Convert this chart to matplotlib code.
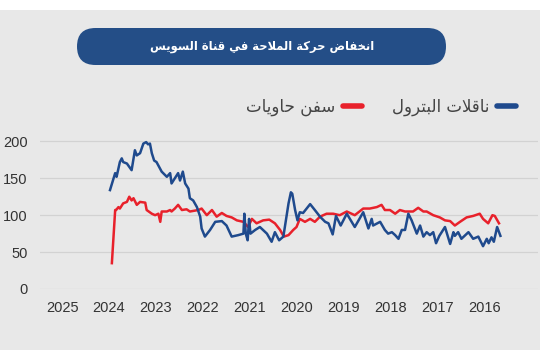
import unicodedata
import matplotlib
matplotlib.use('Agg')
import matplotlib.pyplot as plt
from matplotlib.patches import Rectangle, FancyBboxPatch
from matplotlib.lines import Line2D

# Texts.
title_text = 'انخفاض حركة الملاحة في قناة السويس'
label_tankers = 'ناقلات البترول'
label_containers = 'سفن حاويات'

# X tick labels (axis runs right to left).
tick_years = [2025, 2024, 2023, 2022, 2021, 2020, 2019, 2018, 2017, 2016]
y_ticks = [0, 50, 100, 150, 200]

# Oil tankers (blue): time position and value.
tankers_t = [2023.98, 2023.87, 2023.84, 2023.77, 2023.73, 2023.70, 2023.62, 2023.52,
             2023.45, 2023.41, 2023.34, 2023.27, 2023.21, 2023.17, 2023.13, 2023.09,
             2023.04, 2022.99, 2022.88, 2022.77, 2022.70, 2022.67, 2022.60, 2022.53,
             2022.49, 2022.43, 2022.38, 2022.31, 2022.28, 2022.21, 2022.13, 2022.06,
             2022.03, 2021.96, 2021.85, 2021.74, 2021.60, 2021.50, 2021.39, 2021.25,
             2021.14, 2021.12, 2021.09, 2021.05, 2021.02, 2020.99, 2020.89, 2020.79,
             2020.64, 2020.54, 2020.47, 2020.38, 2020.29, 2020.18, 2020.13, 2020.10,
             2020.04, 2019.99, 2019.94, 2019.87, 2019.72, 2019.62, 2019.51, 2019.40,
             2019.33, 2019.24, 2019.17, 2019.07, 2018.94, 2018.77, 2018.59, 2018.48,
             2018.41, 2018.38, 2018.23, 2018.13, 2018.06, 2017.98, 2017.91, 2017.84,
             2017.77, 2017.70, 2017.63, 2017.56, 2017.45, 2017.38, 2017.31, 2017.24,
             2017.17, 2017.10, 2017.04, 2016.97, 2016.85, 2016.74, 2016.67, 2016.64,
             2016.57, 2016.50, 2016.35, 2016.25, 2016.14, 2016.04, 2015.96, 2015.92,
             2015.86, 2015.81, 2015.74, 2015.67]
tankers_v = [134, 157, 152, 172, 177, 172, 170, 161,
             188, 181, 184, 197, 199, 196, 197, 184,
             174, 172, 159, 152, 157, 143, 150, 157,
             147, 159, 143, 136, 123, 120, 111, 98,
             82, 71, 80, 91, 92, 86, 71, 73,
             75, 102, 75, 66, 95, 75, 80, 84,
             75, 64, 77, 66, 71, 116, 131, 129,
             107, 93, 104, 103, 115, 107, 98, 91,
             89, 74, 99, 86, 102, 84, 104, 82,
             95, 86, 91, 80, 75, 77, 73, 68,
             80, 80, 102, 93, 75, 86, 71, 77,
             73, 77, 62, 72, 84, 61, 77, 72,
             77, 68, 77, 68, 71, 58, 68, 62,
             70, 64, 84, 72]

# Container ships (red): time position and value.
containers_t = [2023.94, 2023.87, 2023.85, 2023.80, 2023.77, 2023.70, 2023.62, 2023.57,
                2023.52, 2023.48, 2023.41, 2023.34, 2023.23, 2023.20, 2023.09, 2023.02,
                2022.95, 2022.91, 2022.88, 2022.77, 2022.70, 2022.67, 2022.60, 2022.53,
                2022.45, 2022.35, 2022.28, 2022.10, 2022.03, 2021.92, 2021.81, 2021.71,
                2021.60, 2021.50, 2021.39, 2021.28, 2021.14, 2021.04, 2020.96, 2020.86,
                2020.72, 2020.59, 2020.47, 2020.36, 2020.28, 2020.18, 2020.08, 2020.01,
                2019.94, 2019.83, 2019.72, 2019.62, 2019.51, 2019.37, 2019.23, 2019.09,
                2018.94, 2018.77, 2018.59, 2018.45, 2018.30, 2018.20, 2018.13, 2018.02,
                2017.91, 2017.81, 2017.70, 2017.60, 2017.53, 2017.42, 2017.31, 2017.24,
                2017.10, 2016.96, 2016.85, 2016.74, 2016.64, 2016.53, 2016.39, 2016.25,
                2016.11, 2016.04, 2015.93, 2015.84, 2015.79, 2015.70]
containers_v = [35, 107, 107, 111, 109, 116, 118, 125,
                120, 123, 114, 118, 117, 107, 102, 100,
                102, 91, 105, 105, 107, 105, 109, 114,
                107, 108, 105, 107, 109, 100, 107, 98,
                103, 99, 97, 93, 91, 84, 95, 89,
                93, 94, 89, 80, 71, 73, 80, 84,
                95, 91, 95, 91, 98, 102, 102, 100,
                105, 100, 109, 109, 111, 114, 107, 107,
                102, 107, 105, 105, 105, 110, 105, 105,
                100, 97, 93, 92, 86, 91, 97, 99,
                102, 95, 89, 100, 99, 89]


# Minimal Arabic shaping (matplotlib has no text shaping): pick
# presentation forms by Unicode name, then reverse for display.
def arabic_forms(c):
    name = unicodedata.name(c, '')
    forms = {}
    for k in ('ISOLATED', 'FINAL', 'INITIAL', 'MEDIAL'):
        try:
            forms[k] = unicodedata.lookup(name + ' ' + k + ' FORM')
        except KeyError:
            pass
    return forms


def shape(text):
    chars = list(text)
    units = []
    i = 0
    while i < len(chars):
        if chars[i] == 'ل' and i + 1 < len(chars) and chars[i + 1] == 'ا':
            units.append('LA')
            i += 2
        else:
            units.append(chars[i])
            i += 1

    def is_letter(u):
        return u == 'LA' or unicodedata.name(u, '').startswith('ARABIC LETTER')

    def joins_next(u):
        return u != 'LA' and is_letter(u) and 'INITIAL' in arabic_forms(u)

    out = []
    for j, u in enumerate(units):
        prev_join = j > 0 and joins_next(units[j - 1]) and is_letter(u)
        if u == 'LA':
            key = 'FINAL' if prev_join else 'ISOLATED'
            out.append(unicodedata.lookup('ARABIC LIGATURE LAM WITH ALEF ' + key + ' FORM'))
            continue
        if not is_letter(u):
            out.append(u)
            continue
        next_join = (j + 1 < len(units) and joins_next(u) and is_letter(units[j + 1]))
        forms = arabic_forms(u)
        if prev_join and next_join:
            key = 'MEDIAL'
        elif prev_join:
            key = 'FINAL'
        elif next_join:
            key = 'INITIAL'
        else:
            key = 'ISOLATED'
        out.append(forms.get(key, u))
    return ''.join(out[::-1])


# Create figure.
fig = plt.figure(figsize=(5.4, 3.6), dpi=100)
fig.patch.set_facecolor('white')

# Background panel and title box, drawn in pixel units.
bg = fig.add_axes([0, 0, 1, 1], zorder=-1)
bg.set_xlim(0, 540)
bg.set_ylim(360, 0)
bg.axis('off')
bg.add_patch(Rectangle((0, 10), 540, 340, facecolor='#e8e8e8', edgecolor='none'))
bg.add_patch(FancyBboxPatch((77, 28), 369, 37, boxstyle='round,pad=0,rounding_size=18.5',
                            facecolor='#244e87', edgecolor='none'))
bg.text(262, 46.5, shape(title_text), color='white', fontsize=8.3, fontweight='bold',
        ha='center', va='center', family='DejaVu Sans')

# Main plot.
ax = fig.add_axes([40 / 540, 71 / 360, 498 / 540, 155 / 360])
ax.set_facecolor('none')
ax.plot(containers_t, containers_v, color='#e8212b', linewidth=1.8, zorder=3)
ax.plot(tankers_t, tankers_v, color='#1f4a8d', linewidth=1.8, zorder=4)

ax.set_xlim(2025.47, 2014.87)
ax.set_ylim(0, 210)
ax.set_xticks(tick_years)
ax.set_xticklabels([str(y) for y in tick_years])
ax.set_yticks(y_ticks)
ax.grid(axis='y', color='#d2d2d2', linewidth=0.9)
ax.set_axisbelow(True)
for s in ax.spines.values():
    s.set_visible(False)
ax.tick_params(axis='both', length=0, labelsize=10.5, labelcolor='#333333')
ax.tick_params(axis='x', pad=9)
ax.tick_params(axis='y', pad=9)
for lab in ax.get_xticklabels() + ax.get_yticklabels():
    lab.set_family('Liberation Sans')

# Legend (right to left).
h_red = Line2D([], [], color='#e8212b', linewidth=4, solid_capstyle='round')
h_blue = Line2D([], [], color='#1f4a8d', linewidth=4, solid_capstyle='round')
fig.legend(handles=[h_red, h_blue], labels=[shape(label_containers), shape(label_tankers)],
           ncol=2, markerfirst=False, frameon=False, loc='center right',
           bbox_to_anchor=(0.983, 0.703), handlelength=1.1, handletextpad=0.5,
           columnspacing=1.8, prop={'family': 'DejaVu Sans', 'size': 12},
           labelcolor='#444444')

fig.savefig('out.png', dpi=100)
